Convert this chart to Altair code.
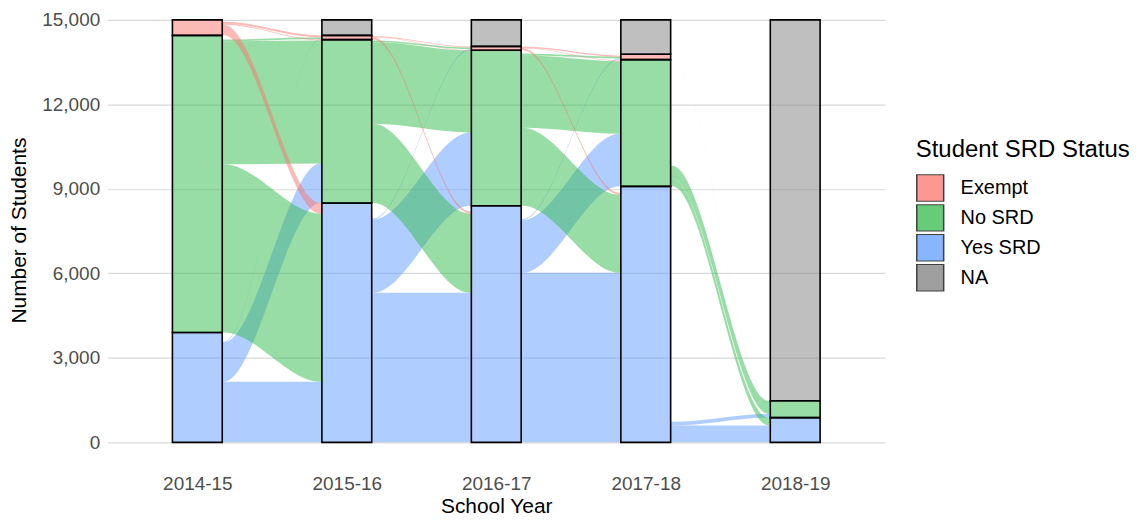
import json
import altair as alt
import pandas as pd

# ---------------- data ----------------
years = ["2014-15", "2015-16", "2016-17", "2017-18", "2018-19"]
statuses = ["Exempt", "No SRD", "Yes SRD", "NA"]
status_colors = ["#F8766D", "#33BB4D", "#619CFF", "#7F7F7F"]

# students per status in each school year
yes_srd = [3900, 8500, 8400, 9090, 878]
no_srd = [10550, 5800, 5520, 4500, 597]
exempt = [550, 150, 140, 190, 0]
na = [0, 550, 940, 1220, 13525]

# flows between consecutive years
# rows = from [Yes SRD, No SRD, Exempt], columns = to [Yes SRD, No SRD, Exempt]
flow_status = ["Yes SRD", "No SRD", "Exempt"]
flows_2014_15 = [[2150, 1400, 20], [5970, 4370, 60], [380, 30, 70]]
flows_2015_16 = [[5310, 2600, 40], [2810, 2900, 60], [80, 20, 30]]
flows_2016_17 = [[6020, 1870, 40], [2770, 2575, 60], [70, 20, 40]]
flows_2017_18 = [[600, 130, 0], [270, 460, 0], [0, 7, 0]]

y_ticks = [0, 3000, 6000, 9000, 12000, 15000]

# ---------------- build tables ----------------
counts = {"Yes SRD": yes_srd, "No SRD": no_srd, "Exempt": exempt, "NA": na}
stack_order = ["Yes SRD", "No SRD", "Exempt", "NA"]  # bottom -> top
HALF = 1 / 6  # half bar width in x units

bases = {s: [0] * len(years) for s in stack_order}
bar_rows = []
for t in range(len(years)):
    base = 0
    for s in stack_order:
        c = counts[s][t]
        bases[s][t] = base
        if c > 0:
            bar_rows.append({"status": s, "x0": t - HALF, "x1": t + HALF,
                             "y0": base, "y1": base + c})
        base += c
bars_df = pd.DataFrame(bar_rows)

all_flows = [flows_2014_15, flows_2015_16, flows_2016_17, flows_2017_18]
flow_rows = []
fid = 0
eps = 0.01
for t, F in enumerate(all_flows):
    xl = t + HALF
    xr = t + 1 - HALF
    for i, src in enumerate(flow_status):
        for j, dst in enumerate(flow_status):
            n = F[i][j]
            if n <= 0:
                continue
            l0 = bases[src][t] + sum(F[i][:j])
            r0 = bases[dst][t + 1] + sum(F[k][j] for k in range(i))
            for x, lo in ((xl, l0), (xl + eps, l0), (xr - eps, r0), (xr, r0)):
                flow_rows.append({"fid": fid, "status": src, "x": x,
                                  "lo": lo, "hi": lo + n})
            fid += 1
flows_df = pd.DataFrame(flow_rows)

# ---------------- scales / axes ----------------
FONT = "Liberation Sans"
xscale = alt.Scale(domain=[-0.6, 4.6], nice=False, zero=False)
yscale = alt.Scale(domain=[-353.8, 15247.6], nice=False, zero=False)
color_scale = alt.Scale(domain=statuses, range=status_colors)

xaxis = alt.Axis(values=list(range(len(years))),
                 labelExpr=json.dumps(years) + "[datum.value]",
                 title="School Year", grid=False, ticks=False, domain=False,
                 labelFontSize=19, labelColor="#4D4D4D", labelPadding=22,
                 titleFontSize=21, titleColor="black", titleFontWeight="normal",
                 titleY=54, titleBaseline="middle", titleFont=FONT, labelFont=FONT)
yaxis = alt.Axis(values=y_ticks, format=",d", title="Number of Students",
                 grid=True, gridColor="#D9D9D9", gridWidth=1.2,
                 ticks=False, domain=False, labelFontSize=19, labelColor="#4D4D4D",
                 labelPadding=8, titleFontSize=21, titleColor="black",
                 titleFontWeight="normal", titleX=-88, titleY=218,
                 titleAngle=270, titleAlign="center", titleBaseline="middle",
                 titleFont=FONT, labelFont=FONT)

legend = alt.Legend(title="Student SRD Status", orient="none", legendX=811, legendY=126,
                    symbolType="square", symbolSize=729, symbolStrokeColor="black",
                    symbolStrokeWidth=1.5, symbolOpacity=0.75,
                    labelFontSize=20, labelColor="black", labelFont=FONT,
                    titleFontSize=24, titleColor="black", titleFont=FONT,
                    titleFontWeight="normal", titleLimit=400, labelLimit=300,
                    labelOffset=16, rowPadding=2, clipHeight=27.5,
                    titlePadding=12)

flows_layer = alt.Chart(flows_df).mark_area(
    interpolate="monotone", fillOpacity=0.5, orient="vertical"
).encode(
    x=alt.X("x:Q", scale=xscale, axis=xaxis),
    y=alt.Y("lo:Q", scale=yscale, axis=yaxis, stack=False),
    y2="hi:Q",
    color=alt.Color("status:N", scale=color_scale, legend=legend),
    detail="fid:N",
)

bars_layer = alt.Chart(bars_df).mark_bar(
    stroke="black", strokeWidth=1.6, fillOpacity=0.5
).encode(
    x=alt.X("x0:Q", scale=xscale, axis=xaxis),
    x2="x1:Q",
    y=alt.Y("y0:Q", scale=yscale, axis=yaxis),
    y2="y1:Q",
    color=alt.Color("status:N", scale=color_scale, legend=legend),
)

chart = alt.layer(flows_layer, bars_layer).properties(
    width=780, height=441,
    autosize=alt.AutoSizeParams(type="none"),
    padding={"left": 100, "top": 4, "right": 250, "bottom": 66},
).configure(font=FONT).configure_view(stroke=None)

chart.save("out.html", embed_options={"renderer": "svg", "actions": False})
